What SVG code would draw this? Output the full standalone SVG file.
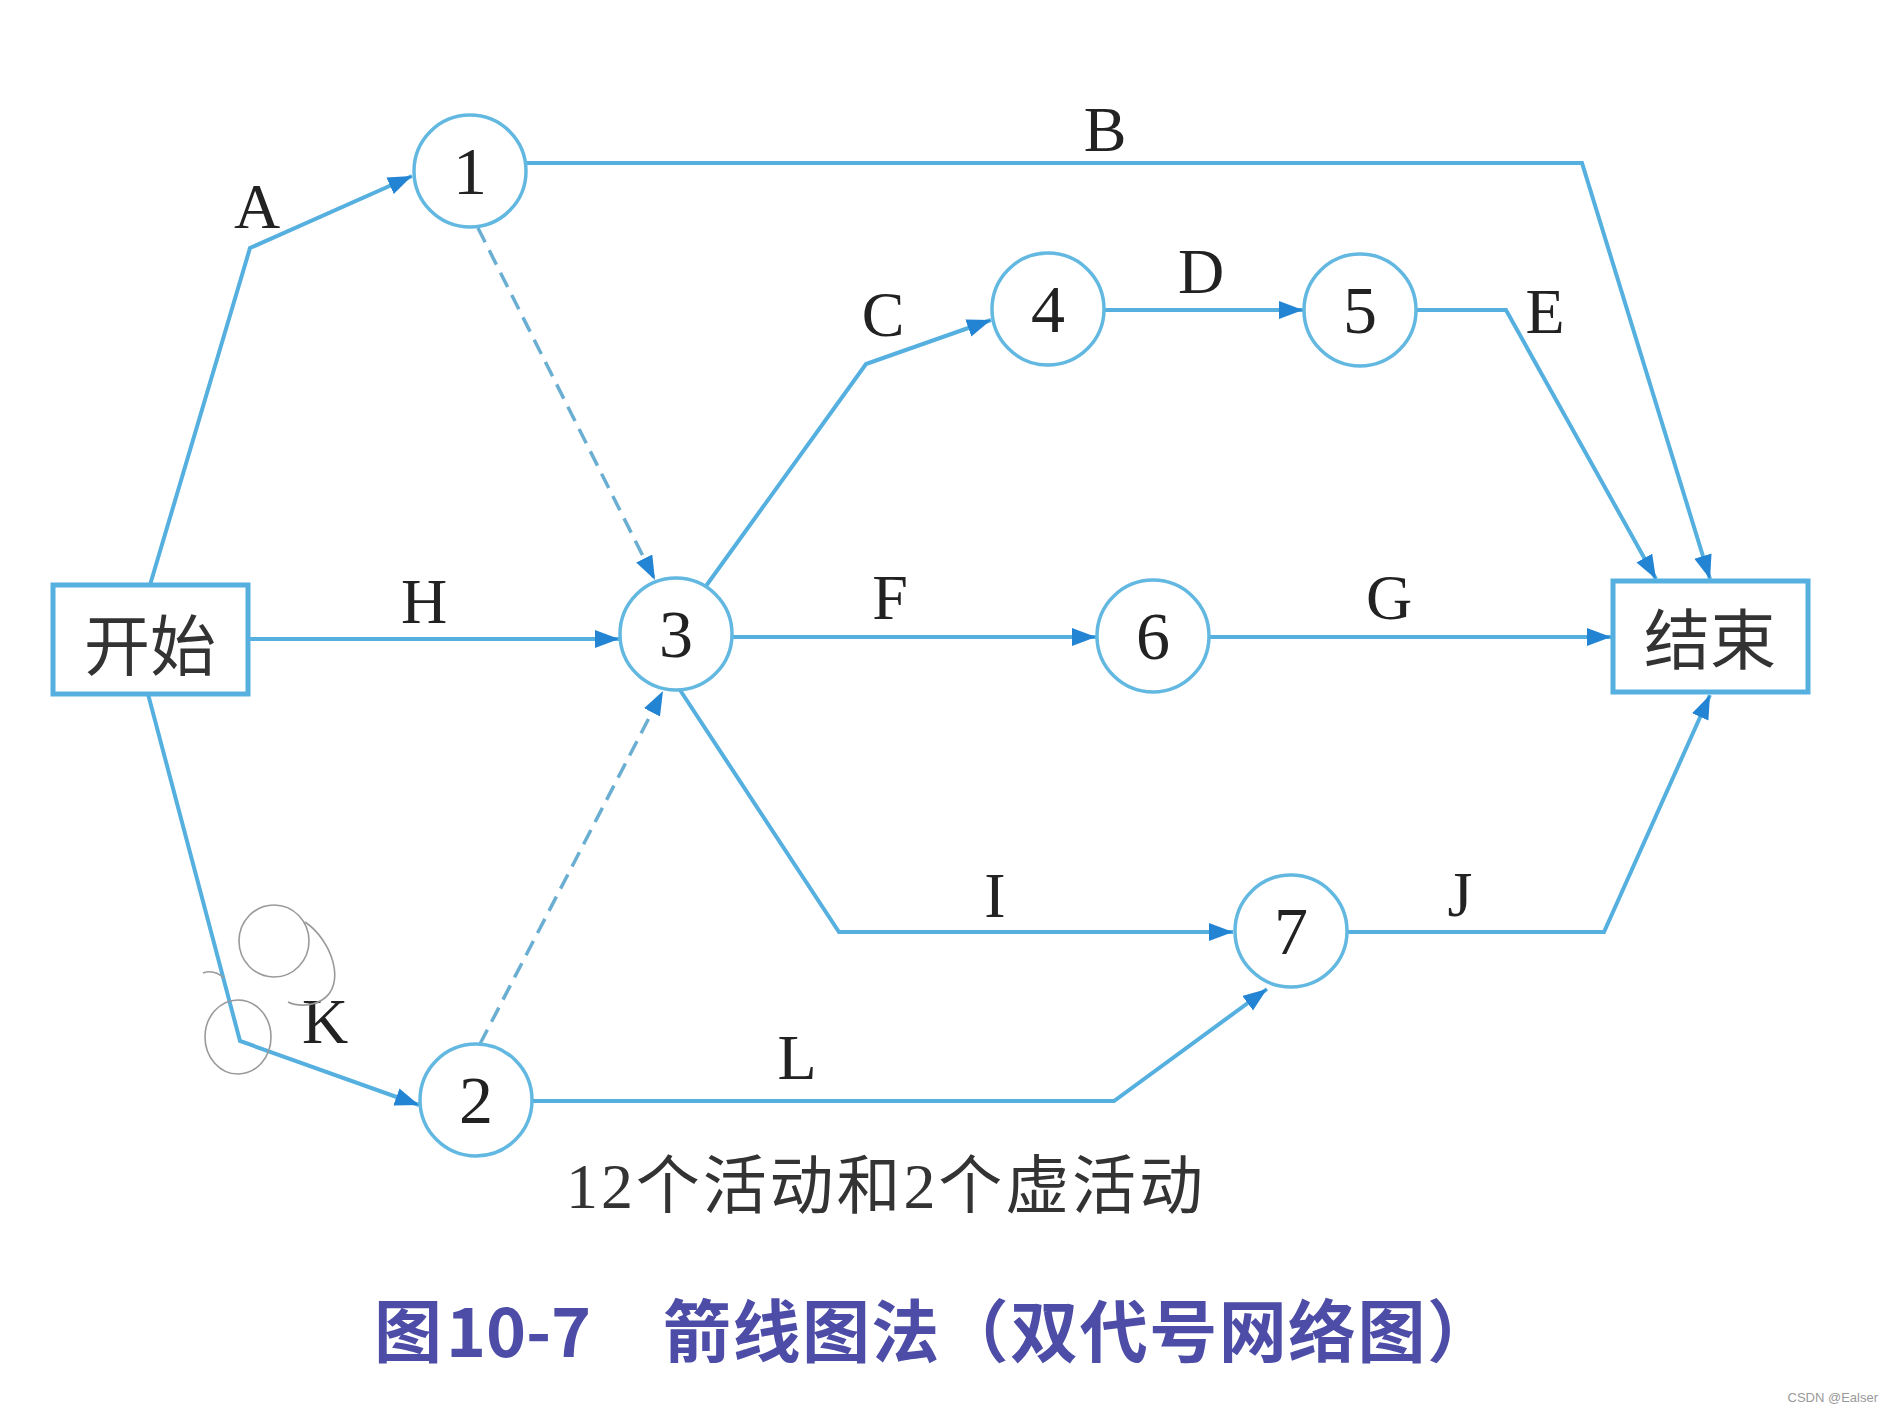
<svg xmlns="http://www.w3.org/2000/svg" width="1890" height="1412" viewBox="0 0 1890 1412">
<style>
.ln{fill:none;stroke:#55b0e0;stroke-width:4;stroke-linejoin:miter}
.dash{fill:none;stroke:#6aaed2;stroke-width:3.5;stroke-dasharray:16 9}
.node{fill:#ffffff;stroke:#62b8e0;stroke-width:3.5}
.box{fill:#ffffff;stroke:#55b0e0;stroke-width:5}
.num{font-family:"Liberation Serif",serif;font-size:68px;fill:#222;text-anchor:middle}
.lab{font-family:"Liberation Serif",serif;font-size:64px;fill:#222;text-anchor:middle}
.cjk{font-family:"Liberation Serif","Noto Sans CJK SC",serif;font-size:66px;fill:#333;text-anchor:middle}
.note{font-family:"Liberation Serif","Noto Sans CJK SC",serif;font-size:64px;fill:#333;text-anchor:start}
.title{font-family:"Noto Sans CJK SC",sans-serif;font-weight:bold;font-size:68px;fill:#4d4da8}
.sk{fill:none;stroke:#9a9a9a;stroke-width:1.6}
</style>
<defs>
<marker id="arr" markerUnits="userSpaceOnUse" markerWidth="28" markerHeight="20" refX="24" refY="9" orient="auto">
<path d="M0,0 L24,9 L0,18 Z" fill="#2484d4"/>
</marker>
</defs>
<rect x="0" y="0" width="1890" height="1412" fill="#ffffff"/>

<g id="connectors">
<path id="e-A" class="ln" d="M150,585 L250,248 L412,176" marker-end="url(#arr)"/>
<path id="e-B" class="ln" d="M526,163 L1582,163 L1710,579" marker-end="url(#arr)"/>
<path id="e-d13" class="dash" d="M478,228 L655,580" marker-end="url(#arr)"/>
<path id="e-H" class="ln" d="M248,639 L619,639" marker-end="url(#arr)"/>
<path id="e-C" class="ln" d="M706,586 L866,364 L991,320" marker-end="url(#arr)"/>
<path id="e-D" class="ln" d="M1104,310 L1303,310" marker-end="url(#arr)"/>
<path id="e-E" class="ln" d="M1416,310 L1506,310 L1656,579" marker-end="url(#arr)"/>
<path id="e-F" class="ln" d="M732,637 L1096,637" marker-end="url(#arr)"/>
<path id="e-G" class="ln" d="M1209,637 L1611,637" marker-end="url(#arr)"/>
<path id="e-I" class="ln" d="M680,690 L839,932 L1233,932" marker-end="url(#arr)"/>
<path id="e-J" class="ln" d="M1347,932 L1604,932 L1710,695" marker-end="url(#arr)"/>
<path id="e-K" class="ln" d="M148,694 L240,1041 L419,1105" marker-end="url(#arr)"/>
<path id="e-d23" class="dash" d="M480,1044 L663,691" marker-end="url(#arr)"/>
<path id="e-L" class="ln" d="M532,1101 L1114,1101 L1267,989" marker-end="url(#arr)"/>
<text class="lab" x="257" y="228">A</text>
<text class="lab" x="1105" y="151">B</text>
<text class="lab" x="883" y="336">C</text>
<text class="lab" x="1201" y="293">D</text>
<text class="lab" x="1545" y="333">E</text>
<text class="lab" x="890" y="619">F</text>
<text class="lab" x="1389" y="619">G</text>
<text class="lab" x="424" y="623">H</text>
<text class="lab" x="995" y="917">I</text>
<text class="lab" x="1460" y="916">J</text>
<text class="lab" x="325" y="1043">K</text>
<text class="lab" x="797" y="1079">L</text>
</g>

<g id="n-start">
<rect class="box" x="53" y="585" width="195" height="109"/>
<text class="cjk" x="150" y="670">开始</text>
</g>
<g id="n-end">
<rect class="box" x="1613" y="581" width="195" height="111"/>
<text class="cjk" x="1710" y="664">结束</text>
</g>
<g id="n1"><circle class="node" cx="470" cy="171" r="56"/><text class="num" x="470" y="194">1</text></g>
<g id="n2"><circle class="node" cx="476" cy="1100" r="56"/><text class="num" x="476" y="1123">2</text></g>
<g id="n3"><circle class="node" cx="676" cy="634" r="56"/><text class="num" x="676" y="657">3</text></g>
<g id="n4"><circle class="node" cx="1048" cy="309" r="56"/><text class="num" x="1048" y="332">4</text></g>
<g id="n5"><circle class="node" cx="1360" cy="310" r="56"/><text class="num" x="1360" y="333">5</text></g>
<g id="n6"><circle class="node" cx="1153" cy="636" r="56"/><text class="num" x="1153" y="659">6</text></g>
<g id="n7"><circle class="node" cx="1291" cy="931" r="56"/><text class="num" x="1291" y="954">7</text></g>

<g id="sketch">
<ellipse class="sk" cx="274" cy="941" rx="35" ry="36"/>
<path class="sk" d="M305,922 C332,940 347,985 322,1000 C310,1007 296,1006 288,1002"/>
<ellipse class="sk" cx="238" cy="1037" rx="33" ry="37"/>
<path class="sk" d="M203,973 Q214,969 224,978"/>
</g>

<text class="note" x="566" y="1208" textLength="637">12个活动和2个虚活动</text>

<g id="caption">
<text class="title" x="374" y="1357">图</text>
<text class="title" x="446" y="1357" textLength="145">10-7</text>
<text class="title" x="663" y="1357" textLength="832">箭线图法（双代号网络图）</text>
</g>

<text x="1878" y="1402" font-family="Liberation Sans, sans-serif" font-size="13" fill="#999" text-anchor="end">CSDN @Ealser</text>
</svg>
